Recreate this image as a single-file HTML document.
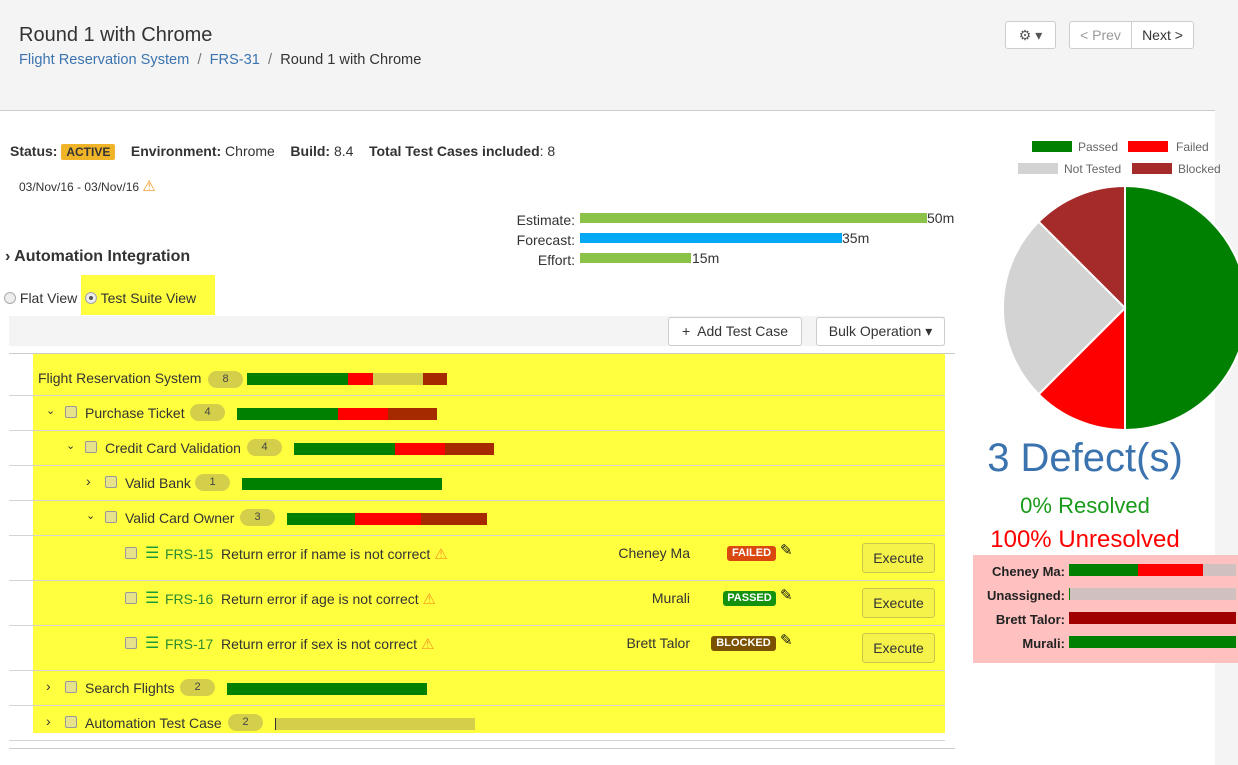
<!DOCTYPE html>
<html><head><meta charset="utf-8"><style>
*{margin:0;padding:0;box-sizing:border-box}
body{width:1238px;height:765px;position:relative;overflow:hidden;background:#fff;font-family:"Liberation Sans",Arial,sans-serif;color:#333;font-size:14px}
.a{position:absolute;white-space:nowrap}
.hl{position:absolute;height:1px;background:#d4d4d4;left:9px;width:936px}
.bar{position:absolute;height:12px}
.badge{position:absolute;height:17px;border-radius:9px;background:#d4cf4a;font-size:11px;text-align:center;line-height:17px;color:#444}
.cb{position:absolute;width:12px;height:12px;border:1px solid #999;border-radius:2px;background:#e6e28a}
.chev{position:absolute;font-size:11px;color:#333}
.btn{position:absolute;border:1px solid #ccc;border-radius:3px;background:#fff;font-size:14px;text-align:center}
.exe{position:absolute;left:862px;width:73px;height:30px;border:1px solid #c8c64a;border-radius:3px;background:#f5f24a;font-size:14px;text-align:center;line-height:28px;color:#333}
.st{position:absolute;height:15px;border-radius:3px;color:#fff;font-weight:bold;font-size:11px;line-height:15px;text-align:center}
.warn{color:#f7941d;font-size:15px}
.pen{position:absolute;left:780px;font-size:15px;color:#111}
.lbl{position:absolute;width:90px;left:975px;text-align:right;font-weight:bold;font-size:13px;color:#222}
</style></head><body>
<div class="a" style="left:0;top:0;width:1238px;height:110px;background:#f4f4f4"></div>
<div class="a" style="left:1215px;top:0;width:23px;height:765px;background:#f4f4f4"></div>
<div class="a" style="left:0;top:110px;width:1215px;height:1px;background:#ccc"></div>
<div class="a" style="left:19px;top:24px;font-size:20px;color:#333">Round 1 with Chrome</div>
<div class="a" style="left:19px;top:52px;font-size:14.6px;color:#3b73af">Flight Reservation System <span style="color:#777">&nbsp;/&nbsp;</span> FRS-31 <span style="color:#777">&nbsp;/&nbsp;</span> <span style="color:#333">Round 1 with Chrome</span></div>
<div class="btn" style="left:1005px;top:21px;width:51px;height:28px;line-height:26px;color:#555">&#9881; &#9662;</div>
<div class="btn" style="left:1069px;top:21px;width:63px;height:28px;line-height:26px;color:#999;border-radius:3px 0 0 3px">&lt; Prev</div>
<div class="btn" style="left:1131px;top:21px;width:63px;height:28px;line-height:26px;color:#333;border-radius:0 3px 3px 0">Next &gt;</div>

<div class="a" style="left:10px;top:143px;font-size:14px"><b>Status:</b> <span style="background:#f0b429;color:#333;font-size:12px;font-weight:bold;padding:1px 5px;border-radius:2px">ACTIVE</span> &nbsp;&nbsp;&nbsp;<b>Environment:</b> Chrome &nbsp;&nbsp;&nbsp;<b>Build:</b> 8.4 &nbsp;&nbsp;&nbsp;<b>Total Test Cases included</b>: 8</div>
<div class="a" style="left:19px;top:177px;font-size:12px">03/Nov/16 - 03/Nov/16 <span class="warn">&#9888;</span></div>

<div class="a" style="left:475px;top:210px;width:100px;line-height:20px;font-size:14px;text-align:right">Estimate:<br>Forecast:<br>Effort:</div>
<div class="bar" style="left:580px;top:213px;width:347px;height:10px;background:#8bc34a"></div><div class="a" style="left:927px;top:210px">50m</div>
<div class="bar" style="left:580px;top:233px;width:262px;height:10px;background:#03a9f4"></div><div class="a" style="left:842px;top:230px">35m</div>
<div class="bar" style="left:580px;top:253px;width:111px;height:10px;background:#8bc34a"></div><div class="a" style="left:692px;top:250px">15m</div>

<div class="a" style="left:5px;top:248px;font-size:16px;font-weight:bold">&#8250; Automation Integration</div>
<div class="a" style="left:81px;top:275px;width:134px;height:40px;background:#ffff40"></div>
<div class="a" style="left:4px;top:290px;font-size:14px"><span style="display:inline-block;width:12px;height:12px;border:1px solid #aaa;border-radius:50%;background:#eee;vertical-align:-1px"></span> Flat View &nbsp;<span style="display:inline-block;width:12px;height:12px;border:1px solid #aaa;border-radius:50%;background:#eee;vertical-align:-1px;box-shadow:inset 0 0 0 3px #eee,inset 0 0 0 6px #555"></span> Test Suite View</div>

<div class="a" style="left:9px;top:316px;width:936px;height:30px;background:#f4f4f4"></div>
<div class="btn" style="left:668px;top:317px;width:134px;height:29px;line-height:27px">+&nbsp; Add Test Case</div>
<div class="btn" style="left:816px;top:317px;width:129px;height:29px;line-height:27px">Bulk Operation &#9662;</div>

<div class="a" style="left:33px;top:353px;width:912px;height:380px;background:#ffff40"></div>
<div class="a" style="left:9px;top:353px;width:946px;height:1px;background:#ccc"></div>
<div class="hl" style="top:395px"></div><div class="hl" style="top:430px"></div><div class="hl" style="top:465px"></div><div class="hl" style="top:500px"></div><div class="hl" style="top:535px"></div><div class="hl" style="top:580px"></div><div class="hl" style="top:625px"></div><div class="hl" style="top:670px"></div><div class="hl" style="top:705px"></div><div class="hl" style="top:740px"></div>
<div class="a" style="left:9px;top:748px;width:946px;height:1px;background:#ccc"></div>

<div class="a" style="left:38px;top:370px">Flight Reservation System</div>
<div class="badge" style="left:208px;top:371px;width:35px">8</div>
<div class="bar" style="left:247px;top:373px;width:101px;background:#008000"></div><div class="bar" style="left:348px;top:373px;width:25px;background:#f00"></div><div class="bar" style="left:373px;top:373px;width:50px;background:#d4cf4a"></div><div class="bar" style="left:423px;top:373px;width:24px;background:#a52a00"></div>

<div class="chev" style="left:46px;top:404px">&#8964;</div><div class="cb" style="left:65px;top:406px"></div>
<div class="a" style="left:85px;top:405px">Purchase Ticket</div><div class="badge" style="left:190px;top:404px;width:35px">4</div>
<div class="bar" style="left:237px;top:408px;width:101px;background:#008000"></div><div class="bar" style="left:338px;top:408px;width:50px;background:#f00"></div><div class="bar" style="left:388px;top:408px;width:49px;background:#a52a00"></div>

<div class="chev" style="left:66px;top:439px">&#8964;</div><div class="cb" style="left:85px;top:441px"></div>
<div class="a" style="left:105px;top:440px">Credit Card Validation</div><div class="badge" style="left:247px;top:439px;width:35px">4</div>
<div class="bar" style="left:294px;top:443px;width:101px;background:#008000"></div><div class="bar" style="left:395px;top:443px;width:50px;background:#f00"></div><div class="bar" style="left:445px;top:443px;width:49px;background:#a52a00"></div>

<div class="chev" style="left:86px;top:473px;font-size:14px">&#8250;</div><div class="cb" style="left:105px;top:476px"></div>
<div class="a" style="left:125px;top:475px">Valid Bank</div><div class="badge" style="left:195px;top:474px;width:35px">1</div>
<div class="bar" style="left:242px;top:478px;width:200px;background:#008000"></div>

<div class="chev" style="left:86px;top:509px">&#8964;</div><div class="cb" style="left:105px;top:511px"></div>
<div class="a" style="left:125px;top:510px">Valid Card Owner</div><div class="badge" style="left:240px;top:509px;width:35px">3</div>
<div class="bar" style="left:287px;top:513px;width:68px;background:#008000"></div><div class="bar" style="left:355px;top:513px;width:66px;background:#f00"></div><div class="bar" style="left:421px;top:513px;width:66px;background:#a52a00"></div>

<div class="cb" style="left:125px;top:547px"></div><div class="a" style="left:145px;top:543px;color:#1a9a3a;font-size:16px">&#9776;</div>
<div class="a" style="left:165px;top:545px"><span style="color:#2e8b2e">FRS-15</span>&nbsp; Return error if name is not correct <span class="warn">&#9888;</span></div>
<div class="a" style="left:590px;top:545px;width:100px;text-align:right">Cheney Ma</div>
<div class="st" style="left:727px;top:546px;width:49px;background:#d9480f">FAILED</div><div class="pen" style="top:541px">&#9998;</div>
<div class="exe" style="top:543px">Execute</div>

<div class="cb" style="left:125px;top:592px"></div><div class="a" style="left:145px;top:588px;color:#1a9a3a;font-size:16px">&#9776;</div>
<div class="a" style="left:165px;top:590px"><span style="color:#2e8b2e">FRS-16</span>&nbsp; Return error if age is not correct <span class="warn">&#9888;</span></div>
<div class="a" style="left:590px;top:590px;width:100px;text-align:right">Murali</div>
<div class="st" style="left:723px;top:591px;width:53px;background:#14920f">PASSED</div><div class="pen" style="top:586px">&#9998;</div>
<div class="exe" style="top:588px">Execute</div>

<div class="cb" style="left:125px;top:637px"></div><div class="a" style="left:145px;top:633px;color:#1a9a3a;font-size:16px">&#9776;</div>
<div class="a" style="left:165px;top:635px"><span style="color:#2e8b2e">FRS-17</span>&nbsp; Return error if sex is not correct <span class="warn">&#9888;</span></div>
<div class="a" style="left:590px;top:635px;width:100px;text-align:right">Brett Talor</div>
<div class="st" style="left:711px;top:636px;width:65px;background:#7a5200">BLOCKED</div><div class="pen" style="top:631px">&#9998;</div>
<div class="exe" style="top:633px">Execute</div>

<div class="chev" style="left:46px;top:678px;font-size:14px">&#8250;</div><div class="cb" style="left:65px;top:681px"></div>
<div class="a" style="left:85px;top:680px">Search Flights</div><div class="badge" style="left:180px;top:679px;width:35px">2</div>
<div class="bar" style="left:227px;top:683px;width:200px;background:#008000"></div>
<div class="chev" style="left:46px;top:713px;font-size:14px">&#8250;</div><div class="cb" style="left:65px;top:716px"></div>
<div class="a" style="left:85px;top:715px">Automation Test Case</div><div class="badge" style="left:228px;top:714px;width:35px">2</div>
<div class="bar" style="left:275px;top:718px;width:200px;background:#d4cf4a;border-left:1px solid #333"></div>

<div class="a" style="left:1032px;top:141px;width:40px;height:11px;background:#008000"></div><div class="a" style="left:1078px;top:140px;font-size:12px;color:#666">Passed</div>
<div class="a" style="left:1128px;top:141px;width:40px;height:11px;background:#f00"></div><div class="a" style="left:1176px;top:140px;font-size:12px;color:#666">Failed</div>
<div class="a" style="left:1018px;top:163px;width:40px;height:11px;background:#d3d3d3"></div><div class="a" style="left:1064px;top:162px;font-size:12px;color:#666">Not Tested</div>
<div class="a" style="left:1132px;top:163px;width:40px;height:11px;background:#a52a2a"></div><div class="a" style="left:1178px;top:162px;font-size:12px;color:#666">Blocked</div>
<svg class="a" style="left:1000px;top:183px" width="250" height="250" viewBox="0 0 250 250">
<g stroke="#fff" stroke-width="2">
<path d="M125,125 L125,3 A122,122 0 0 1 125,247 Z" fill="#008000"/>
<path d="M125,125 L125,247 A122,122 0 0 1 38.7,211.3 Z" fill="#f00"/>
<path d="M125,125 L38.7,211.3 A122,122 0 0 1 38.7,38.7 Z" fill="#d3d3d3"/>
<path d="M125,125 L38.7,38.7 A122,122 0 0 1 125,3 Z" fill="#a52a2a"/>
</g></svg>
<div class="a" style="left:960px;top:436px;width:250px;text-align:center;font-size:40px;color:#3b73af">3 Defect(s)</div>
<div class="a" style="left:960px;top:493px;width:250px;text-align:center;font-size:22px;color:#1a9a1a">0% Resolved</div>
<div class="a" style="left:960px;top:526px;width:250px;text-align:center;font-size:24px;color:#f00">100% Unresolved</div>
<div class="a" style="left:973px;top:555px;width:265px;height:108px;background:#ffc0c0"></div>
<div class="lbl" style="top:564px">Cheney Ma:</div>
<div class="lbl" style="top:588px">Unassigned:</div>
<div class="lbl" style="top:612px">Brett Talor:</div>
<div class="lbl" style="top:636px">Murali:</div>
<div class="bar" style="left:1069px;top:564px;width:167px;background:#d0c0c0"></div><div class="bar" style="left:1069px;top:564px;width:69px;background:#008000"></div><div class="bar" style="left:1138px;top:564px;width:65px;background:#f00"></div>
<div class="bar" style="left:1069px;top:588px;width:167px;background:#d0c0c0;border-left:1px solid #080"></div>
<div class="bar" style="left:1069px;top:612px;width:167px;background:#a00000"></div>
<div class="bar" style="left:1069px;top:636px;width:167px;background:#008000"></div>
</body></html>
